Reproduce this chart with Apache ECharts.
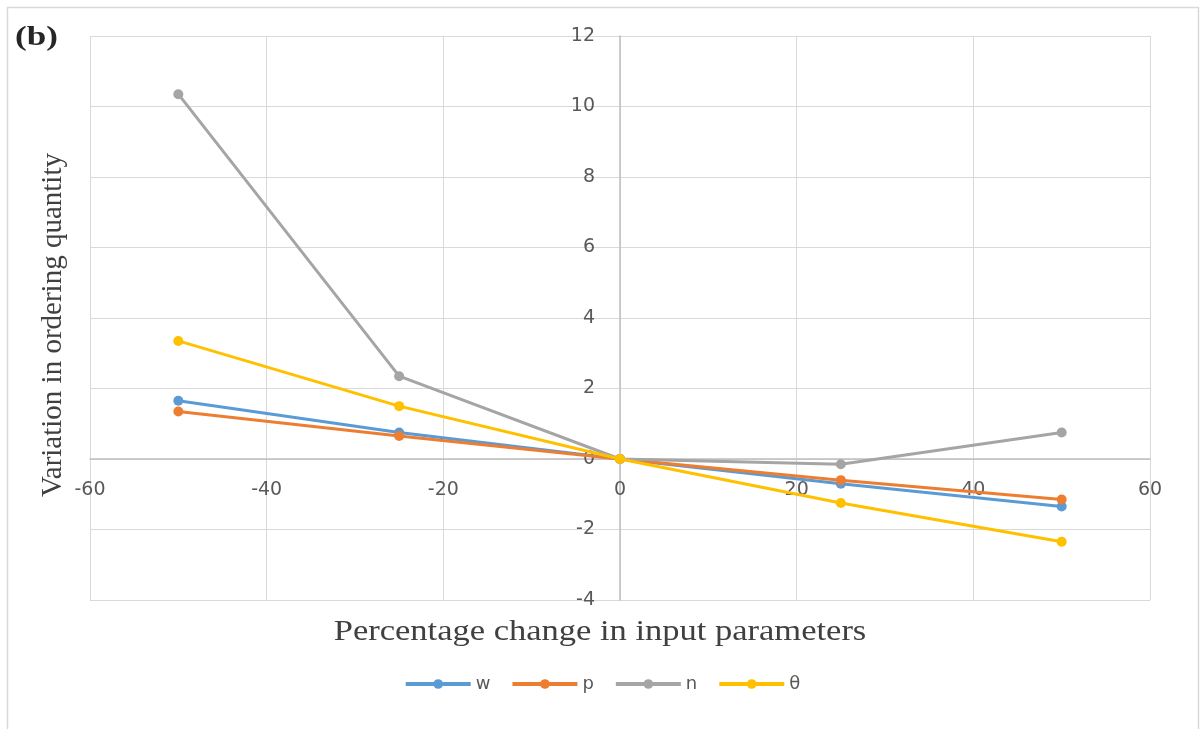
<!DOCTYPE html>
<html>
<head>
<meta charset="utf-8">
<style>
  html, body { margin: 0; padding: 0; background: #fff; }
  #chart { width: 1204px; height: 729px; }
</style>
<script src="https://cdn.jsdelivr.net/npm/echarts@6/dist/echarts.min.js"></script>
</head>
<body>
<div id="chart"></div>
<script>
// Percentage change applied to each input parameter
const pctChange = [-50, -25, 0, 25, 50];

// Variation in ordering quantity for each parameter
const wValues = [1.65, 0.75, 0, -0.7, -1.35];
const pValues = [1.35, 0.65, 0, -0.6, -1.15];
const nValues = [10.35, 2.35, 0, -0.15, 0.75];
const thetaValues = [3.35, 1.5, 0, -1.25, -2.35];

const seriesNames = ['w', 'p', 'n', 'θ'];
const seriesColors = ['#5B9BD5', '#ED7D31', '#A5A5A5', '#FFC000'];
const seriesValues = [wValues, pValues, nValues, thetaValues];

// Axis ranges
const xMin = -60, xMax = 60, xStep = 20;
const yMin = -4, yMax = 12, yStep = 2;

const gridLeft = 90, gridRight = 54, gridTop = 36, gridBottom = 129;
const W = 1204, H = 729;
const gridW = W - gridLeft - gridRight;
const gridH = H - gridTop - gridBottom;

// Shift each axis so it crosses the other at zero
const xAxisOffset = -gridH * (0 - yMin) / (yMax - yMin);
const yAxisOffset = -gridW * (0 - xMin) / (xMax - xMin);

const chart = echarts.init(document.getElementById('chart'), null, { renderer: 'canvas' });

const axisLabelStyle = { color: '#595959', fontFamily: '"DejaVu Sans", sans-serif', fontSize: 19 };

const series = seriesNames.map((name, i) => ({
  name: name,
  type: 'line',
  data: pctChange.map((x, j) => [x, seriesValues[i][j]]),
  symbol: 'circle',
  symbolSize: 10,
  lineStyle: { width: 3, color: seriesColors[i] },
  itemStyle: { color: seriesColors[i] },
  z: 2 + i
}));

chart.setOption({
  animation: false,
  backgroundColor: '#fff',
  color: seriesColors,
  grid: { left: gridLeft, right: gridRight, top: gridTop, bottom: gridBottom, containLabel: false },
  xAxis: [{
    type: 'value',
    min: xMin, max: xMax, interval: xStep,
    position: 'bottom',
    offset: xAxisOffset,
    axisLine: { show: true, onZero: false, lineStyle: { color: '#BFBFBF', width: 1.5 } },
    axisTick: { show: false },
    axisLabel: Object.assign({ margin: 22 }, axisLabelStyle),
    splitLine: { show: true, lineStyle: { color: '#D9D9D9', width: 1 } }
  }],
  yAxis: [{
    type: 'value',
    min: yMin, max: yMax, interval: yStep,
    position: 'left',
    offset: yAxisOffset,
    axisLine: { show: true, onZero: false, lineStyle: { color: '#BFBFBF', width: 1.5 } },
    axisTick: { show: false },
    axisLabel: Object.assign({ margin: 25 }, axisLabelStyle),
    splitLine: { show: true, lineStyle: { color: '#D9D9D9', width: 1 } }
  }],
  legend: {
    top: 670,
    left: 'center',
    itemWidth: 65,
    itemHeight: 12,
    itemGap: 20,
    lineStyle: { width: 4 },
    textStyle: { color: '#595959', fontFamily: '"DejaVu Sans", sans-serif', fontSize: 18 },
    data: seriesNames
  },
  series: series,
  graphic: [
    {
      type: 'rect',
      shape: { x: 7.5, y: 7.5, width: 1191, height: 740 },
      style: { fill: 'none', stroke: '#D9D9D9', lineWidth: 1.5 },
      silent: true, z: -1
    },
    {
      type: 'text',
      x: 15, y: 38,
      scaleX: 1.3,
      style: {
        text: '(b)', fill: '#262626',
        font: 'bold 27px "Liberation Serif", "DejaVu Serif", serif',
        verticalAlign: 'middle'
      }
    },
    {
      type: 'text',
      x: 53, y: 325,
      rotation: Math.PI / 2,
      style: {
        text: 'Variation in ordering quantity',
        fill: '#404040',
        font: '29px "Liberation Serif", "DejaVu Serif", serif',
        align: 'center', verticalAlign: 'middle'
      }
    },
    {
      type: 'text',
      x: 600, y: 632,
      scaleX: 1.15,
      style: {
        text: 'Percentage change in input parameters',
        fill: '#404040',
        font: '30px "Liberation Serif", "DejaVu Serif", serif',
        align: 'center', verticalAlign: 'middle'
      }
    }
  ]
});
</script>
</body>
</html>
